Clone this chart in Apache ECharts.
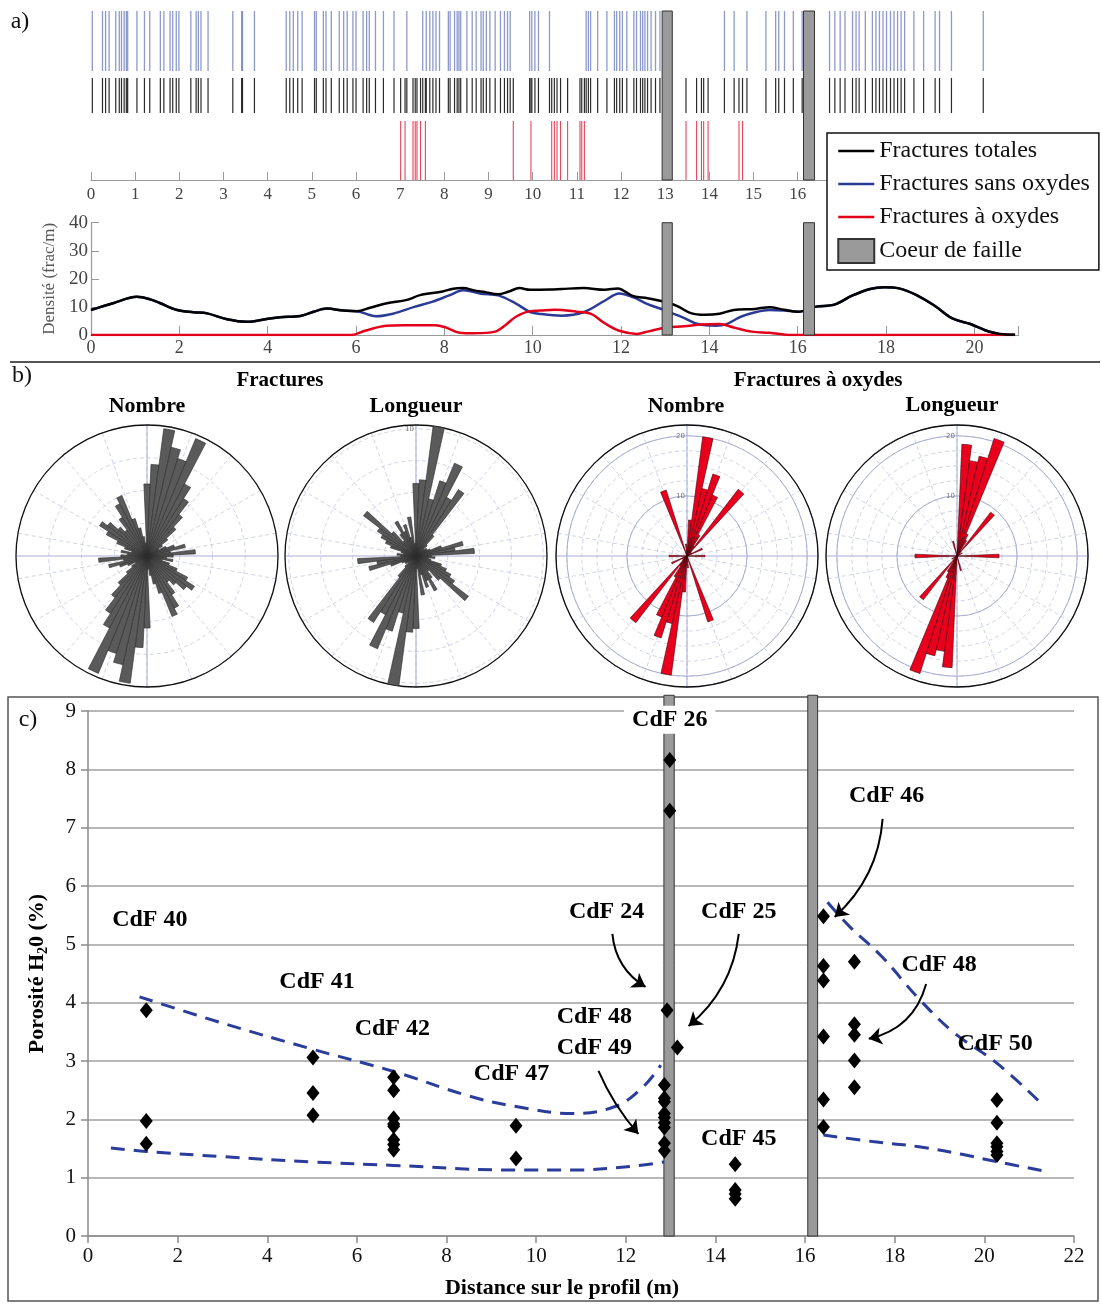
<!DOCTYPE html>
<html><head><meta charset="utf-8">
<script src="https://cdn.jsdelivr.net/npm/echarts/dist/echarts.min.js"></script>
<style>html,body{margin:0;padding:0;background:#fff}#c{width:1102px;height:1305px}</style>
</head><body><div id="c"></div><script>
// ---------------- DATA ----------------
// a) fracture positions along the profile (m)
const fracSansOxydes = [0.03,0.26,0.33,0.41,0.56,0.64,0.69,0.75,0.8,0.83,1.04,1.21,1.33,1.57,1.65,1.79,1.85,1.93,1.99,2.26,2.38,2.43,2.49,2.65,3.21,3.41,3.43,3.7,4.42,4.5,4.58,4.68,4.78,5.06,5.1,5.26,5.32,5.44,5.62,5.72,5.8,5.93,6.0,6.16,6.24,6.3,6.44,6.62,6.86,7.15,7.51,7.59,7.67,7.74,7.81,7.89,8.09,8.13,8.23,8.29,8.33,8.37,8.51,8.63,8.72,8.83,8.88,8.95,9.03,9.15,9.27,9.36,9.43,9.49,9.93,9.98,10.05,10.13,10.38,11.21,11.26,11.31,11.47,11.68,11.85,11.9,11.97,12.03,12.13,12.29,12.35,12.44,12.49,12.54,12.6,12.68,12.78,12.88,14.34,14.56,14.85,15.28,15.5,15.57,15.7,15.9,16.1,16.72,16.84,16.96,17.07,17.24,17.32,17.39,17.53,17.69,17.77,17.85,17.93,18.01,18.1,18.18,18.26,18.34,18.42,18.63,18.85,19.11,19.21,19.48,20.2];
const fracOxydes = [7.01,7.11,7.29,7.34,7.38,7.46,7.57,9.56,9.96,10.43,10.49,10.55,10.63,10.79,11.07,11.11,11.17,13.47,13.71,13.82,13.87,13.97,14.67,14.75];
const fracTotales = fracSansOxydes.concat(fracOxydes);
const coeurFailleA = [[12.93,13.16],[16.13,16.38]];
const xTicksA = [0,1,2,3,4,5,6,7,8,9,10,11,12,13,14,15,16];

// a) density curves (frac/m)
const densTotale = [[0,8.9],[0.5,11.3],[1.04,13.6],[1.34,12.7],[1.57,11.3],[1.95,8.9],[2.32,8.1],[2.63,7.7],[3.08,5.6],[3.53,4.7],[3.98,5.7],[4.28,6.3],[4.74,6.8],[5.04,8.3],[5.34,9.4],[5.72,8.7],[6.02,8.5],[6.32,9.7],[6.7,11.3],[7.15,12.5],[7.45,14.2],[7.96,15.5],[8.2,16.5],[8.43,16.7],[8.67,15.9],[8.91,15.3],[9.22,14.5],[9.46,15.5],[9.7,16.7],[9.94,16.1],[10.4,16.2],[10.66,16.4],[11.15,16.7],[11.63,16.1],[11.92,16.6],[12.28,13.8],[12.6,13.1],[12.93,12.0],[13.26,10.4],[13.58,7.8],[13.9,7.2],[14.23,7.6],[14.55,8.9],[15.04,9.3],[15.36,9.9],[15.69,9.0],[16.01,8.3],[16.42,10.1],[16.83,10.8],[17.23,14.0],[17.64,16.4],[17.96,17.0],[18.29,16.6],[18.69,14.2],[19.1,10.4],[19.5,5.9],[19.91,3.9],[20.23,1.8],[20.56,0.4],[20.92,0.1]];
const densSansOxydes = [[0,8.9],[0.5,11.3],[1.04,13.6],[1.34,12.7],[1.57,11.3],[1.95,8.9],[2.32,8.1],[2.63,7.7],[3.08,5.6],[3.53,4.7],[3.98,5.7],[4.28,6.3],[4.74,6.8],[5.04,8.3],[5.34,9.4],[5.72,8.7],[6.02,8.5],[6.45,6.7],[6.84,7.6],[7.32,10],[7.72,11.8],[8.11,14.1],[8.43,15.9],[8.83,14.7],[9.22,14.1],[9.62,11.2],[9.94,8.2],[10.17,7.5],[10.66,6.9],[11.15,8.1],[11.63,12.2],[11.96,14.8],[12.28,13.4],[12.6,11.0],[13.01,8.7],[13.42,6.1],[13.74,3.9],[14.15,3.3],[14.39,3.9],[14.71,6.5],[15.04,8.1],[15.36,8.9],[15.69,8.7],[16.01,8.3],[16.42,10.1],[16.83,10.8],[17.23,14.0],[17.64,16.4],[17.96,17.0],[18.29,16.6],[18.69,14.2],[19.1,10.4],[19.5,5.9],[19.91,3.9],[20.23,1.8],[20.56,0.4],[20.92,0.1]];
const densOxydes = [[0,0],[5.9,0],[6.2,1.5],[6.68,3.3],[7.08,3.5],[7.8,3.5],[8.03,2.7],[8.35,0.8],[8.67,0.6],[9.15,1.2],[9.38,3.5],[9.62,6.5],[9.94,8.5],[10.17,8.7],[10.5,9.0],[10.99,8.3],[11.32,7.5],[11.63,4.2],[11.96,1.5],[12.36,0.4],[12.6,1.2],[13.01,2.7],[13.42,3.1],[13.82,3.7],[14.23,3.9],[14.55,2.7],[14.96,1.2],[15.36,0.8],[15.85,0],[20.92,0]];

// b) rose diagrams: 5-degree bins from 0 to 175 (bidirectional)
const roseFracNombre   = [55,70,98,85,78,97,62,52,40,30,20,14,10,16,22,30,18,37,20,15,20,12,18,25,35,43,38,30,25,35,45,50,30,22,15,10];
const roseFracLongueur = [5.7,6.0,10.3,4.6,6.2,7.9,5.2,6.2,2.1,1.2,0.8,1.0,1.0,1.2,2.1,3.8,3.1,4.6,1.2,1.5,1.0,1.2,2.1,2.6,3.1,3.6,5.2,2.6,1.5,2.1,3.1,2.1,2.6,1.5,3.1,1.0];
const roseOxNombre     = [0,6,20,11.5,14.3,11,4,2,14,1,0,0,1,2.8,0,0,0,0,3,0,0,0,0,0,0,0,0,0,0,0,0,0,11.5,0,0,2];
const roseOxLongueur   = [0,18.6,16,17,20.5,4,3,1,9.2,0,0,0,1,0,0,0,0,0,7,0,0,0,0,0,0,0,0,0,0,0,0,0,0,2.5,0,0];

// c) porosity samples [distance (m), porosity (%)]
const porosite = [[1.3,3.87],[1.3,1.97],[1.3,1.58],[5.02,3.06],[5.02,2.45],[5.02,2.07],
 [6.82,2.72],[6.82,2.5],[6.82,2.02],[6.82,1.92],[6.82,1.88],[6.82,1.65],[6.82,1.57],[6.82,1.48],
 [9.55,1.89],[9.55,1.33],
 [12.86,2.59],[12.86,2.36],[12.86,2.3],[12.86,2.1],[12.86,2.03],[12.86,1.94],[12.86,1.86],[12.86,1.59],[12.86,1.46],
 [12.92,3.87],[12.98,8.16],[12.98,7.29],[13.15,3.23],
 [14.44,1.23],[14.44,0.79],[14.44,0.72],[14.44,0.64],
 [16.41,5.48],[16.41,4.63],[16.41,4.38],[16.41,3.42],[16.41,2.34],[16.41,1.87],
 [17.1,4.7],[17.1,3.63],[17.1,3.45],[17.1,3.01],[17.1,2.55],
 [20.28,2.33],[20.28,1.94],[20.28,1.59],[20.28,1.53],[20.28,1.45],[20.28,1.39]];
const tendanceHaut1 = [[1.15,4.1],[3,3.65],[5.02,3.2],[6.82,2.82],[8.5,2.4],[9.55,2.22],[10.81,2.1],[11.76,2.22],[12.39,2.56],[12.78,2.93]];
const tendanceBas1  = [[0.51,1.51],[1.3,1.45],[3,1.36],[5.02,1.27],[6.82,1.21],[9.55,1.13],[10.81,1.13],[12.2,1.2],[12.86,1.27]];
const tendanceHaut2 = [[16.5,5.72],[17.0,5.3],[17.7,4.8],[18.5,4.1],[19.3,3.5],[20.3,2.95],[21.3,2.25]];
const tendanceBas2  = [[16.41,1.73],[17.5,1.62],[18.54,1.53],[19.5,1.4],[20.3,1.27],[21.3,1.12]];
const coeurFailleC = [[12.85,13.08],[16.06,16.28]];
const annotations = [[1.38,5.42,'CdF 40'],[5.11,4.35,'CdF 41'],[6.79,3.55,'CdF 42'],[9.45,2.78,'CdF 47'],
 [11.3,3.75,'CdF 48'],[11.3,3.22,'CdF 49'],[11.57,5.55,'CdF 24'],[14.52,5.55,'CdF 25'],
 [14.52,1.66,'CdF 45'],[17.82,7.54,'CdF 46'],[18.99,4.65,'CdF 48'],[20.24,3.29,'CdF 50']];
const annotationBoxed = [[12.98,8.85,'CdF 26']];
const arrows = [[[11.7,5.18],[12.44,4.27],-0.25],[[14.52,5.18],[13.4,3.6],0.2],[[11.39,2.83],[12.28,1.75],-0.08],[[17.73,7.15],[16.66,5.47],0.2],[[18.7,4.32],[17.42,3.38],0.3]];

// ---------------- CHART ----------------
const F = 'Liberation Serif';
const chart = echarts.init(document.getElementById('c'), null, {renderer:'canvas'});

function tickSeries(name, arr, y0, y1, color, w) {
  return {type:'custom', name:name, xAxisIndex:0, yAxisIndex:0, silent:true,
    data: arr.map(v => [v, y0, y1]), encode:{x:0, y:1},
    renderItem: (p, api) => {
      const a = api.coord([api.value(0), api.value(1)]);
      const b = api.coord([api.value(0), api.value(2)]);
      return {type:'line', shape:{x1:a[0], y1:a[1], x2:b[0], y2:b[1]}, style:{stroke:color, lineWidth:w}};
    }};
}
function faultSeries(arr, xi, yi, y0, y1) {
  return {type:'custom', name:'Coeur de faille', xAxisIndex:xi, yAxisIndex:yi, silent:true, clip:false, z:5,
    itemStyle:{color:'#9a9a9a', borderColor:'#333', borderWidth:1},
    data: arr.map(d => [d[0], d[1], y0, y1]), encode:{x:[0,1], y:[2,3]},
    renderItem: (p, api) => {
      const a = api.coord([api.value(0), api.value(2)]);
      const b = api.coord([api.value(1), api.value(3)]);
      return {type:'rect', shape:{x:a[0], y:b[1], width:b[0]-a[0], height:a[1]-b[1]},
        style:{fill:'#9a9a9a', stroke:'#333', lineWidth:1}};
    }};
}

const roseDefs = [
  {vals: roseFracNombre, max: 100, fill:'#5a5a5a', stroke:'#2a2a2a', ring: 25, solid: false, lab: false, center:[147,556]},
  {vals: roseFracLongueur, max: 10.3, fill:'#5a5a5a', stroke:'#2a2a2a', ring: 2.5, solid: false, lab: true, center:[416,556]},
  {vals: roseOxNombre, max: 21.8, fill:'#e8001c', stroke:'#4a0008', ring: 2.5, solid: true, lab: true, center:[687,556]},
  {vals: roseOxLongueur, max: 21.8, fill:'#e8001c', stroke:'#4a0008', ring: 2.5, solid: true, lab: true, center:[957,556]}
];
const R = 131;
const polar = [], angleAxis = [], radiusAxis = [], roseSeries = [];
const bins72 = Array.from({length:72}, (_, i) => String(i*5));
const bins36 = Array.from({length:36}, (_, i) => String(i*10));
roseDefs.forEach((d, k) => {
  const base = polar.length;
  polar.push({center:d.center, radius:R});
  angleAxis.push({polarIndex:base, type:'category', data:bins36, startAngle:90, boundaryGap:true,
    axisLine:{show:false}, axisTick:{show:false}, axisLabel:{show:false},
    splitLine:{show:true, lineStyle:{color:'#c3c8de', type:[4,3], width:0.8}}});
  radiusAxis.push({polarIndex:base, type:'value', min:0, max:d.max, interval:d.ring,
    axisLine:{show:false}, axisTick:{show:false}, axisLabel:{show:false},
    splitLine:{show:true, lineStyle:{color:'#c3c8de', type:[4,3], width:0.8}}});
  polar.push({center:d.center, radius:R});
  angleAxis.push({polarIndex:base+1, type:'category', data:['N','E','S','W'], startAngle:90, boundaryGap:true,
    axisLine:{show:false}, axisTick:{show:false}, axisLabel:{show:false},
    splitLine:{show:true, lineStyle:{color:'#a8add2', width:1}}});
  radiusAxis.push({polarIndex:base+1, type:'value', min:0, max:d.max, interval:10,
    axisLine:{show:false}, axisTick:{show:false},
    axisLabel:{show:d.lab, fontSize:7, color:'#777', fontFamily:'DejaVu Sans', showMinLabel:false, showMaxLabel:false, margin:2},
    splitLine:{show:d.solid, lineStyle:{color:'#a8add2', width:1}}});
  polar.push({center:d.center, radius:R});
  angleAxis.push({polarIndex:base+2, type:'category', data:bins72, startAngle:92.5, boundaryGap:true,
    axisLine:{show:true, lineStyle:{color:'#111', width:1.3}}, axisTick:{show:false}, axisLabel:{show:false},
    splitLine:{show:false}});
  radiusAxis.push({polarIndex:base+2, type:'value', min:0, max:d.max, show:false,
    axisLine:{show:false}, axisTick:{show:false}, axisLabel:{show:false}, splitLine:{show:false}});
  roseSeries.push({type:'bar', coordinateSystem:'polar', polarIndex:base+2, silent:true,
    data: d.vals.concat(d.vals), barCategoryGap:'0%', z:3,
    itemStyle:{color:d.fill, borderColor:d.stroke, borderWidth:0.6}});
});

const labelStyle = {fontFamily:F, fontSize:24, fontWeight:'bold', color:'#000', textBorderWidth:0, opacity:1};

const option = {
  animation:false,
  backgroundColor:'#fff',
  textStyle:{fontFamily:F},
  legend:{left:827, top:133, orient:'vertical', backgroundColor:'#fff', borderColor:'#111', borderWidth:1.5,
    padding:[6,9,6,10], itemGap:9, itemWidth:36, itemHeight:24, selectedMode:false, z:20,
    textStyle:{fontFamily:F, fontSize:24, color:'#111'},
    data:[{name:'Fractures totales', itemStyle:{opacity:0}, lineStyle:{width:2.5}},
          {name:'Fractures sans oxydes', itemStyle:{opacity:0}, lineStyle:{width:2.5}},
          {name:'Fractures à oxydes', itemStyle:{opacity:0}, lineStyle:{width:2.5}},
          {name:'Coeur de faille', icon:'rect'}]},
  grid:[
    {left:91, top:11, width:927.6, height:169},
    {left:91, top:222.7, width:927.6, height:112.3},
    {left:88, top:711, width:986, height:525}
  ],
  xAxis:[
    {gridIndex:0, type:'value', min:0, max:21, interval:1,
      axisLine:{lineStyle:{color:'#9a9a9a', width:1.2}}, axisTick:{inside:true, length:8, lineStyle:{color:'#9a9a9a'}},
      axisLabel:{fontFamily:F, fontSize:17, color:'#444', margin:6, formatter:v => xTicksA.indexOf(v) >= 0 ? String(v) : ''},
      splitLine:{show:false}},
    {gridIndex:1, type:'value', min:0, max:21, interval:2,
      axisLine:{lineStyle:{color:'#9a9a9a', width:1.2}}, axisTick:{inside:true, length:9, lineStyle:{color:'#9a9a9a'}},
      axisLabel:{fontFamily:F, fontSize:18, color:'#444', margin:4, formatter:v => v % 2 === 0 ? String(v) : ''},
      splitLine:{show:false}},
    {gridIndex:2, type:'value', min:0, max:22, interval:2,
      axisLine:{lineStyle:{color:'#8a8a8a', width:1.5}}, axisTick:{length:7, lineStyle:{color:'#8a8a8a', width:1.5}},
      axisLabel:{fontFamily:F, fontSize:21, color:'#111', margin:10},
      splitLine:{show:false},
      name:'Distance sur le profil (m)', nameLocation:'middle', nameGap:41,
      nameTextStyle:{fontFamily:F, fontSize:22, fontWeight:'bold', color:'#000', padding:[0,38,0,0]}}
  ],
  yAxis:[
    {gridIndex:0, type:'value', min:0, max:1, show:false},
    {gridIndex:1, type:'value', min:0, max:40, interval:10,
      axisLine:{show:true, lineStyle:{color:'#9a9a9a', width:1.2}}, axisTick:{show:true, inside:true, length:8, lineStyle:{color:'#9a9a9a'}},
      axisLabel:{fontFamily:F, fontSize:19, color:'#444', margin:3},
      splitLine:{show:false},
      name:'Densité (frac/m)', nameLocation:'middle', nameGap:18, nameRotate:90,
      nameTextStyle:{fontFamily:F, fontSize:17, color:'#555'}},
    {gridIndex:2, type:'value', min:0, max:9, interval:1,
      axisLine:{show:true, lineStyle:{color:'#8a8a8a', width:1.5}}, axisTick:{show:true, length:7, lineStyle:{color:'#8a8a8a', width:1.5}},
      axisLabel:{fontFamily:F, fontSize:21, color:'#111', margin:12},
      splitLine:{show:true, lineStyle:{color:'#a0a0a0', width:1.5}},
      name:'Porosité H{sub|2}0 (%)', nameLocation:'middle', nameGap:38, nameRotate:90,
      nameTextStyle:{fontFamily:F, fontSize:22, fontWeight:'bold', color:'#000',
        rich:{sub:{fontFamily:F, fontSize:14, fontWeight:'bold', color:'#000', padding:[12,0,0,0]}}}}
  ],
  polar: polar, angleAxis: angleAxis, radiusAxis: radiusAxis,
  graphic:[
    {type:'line', shape:{x1:10, y1:362, x2:1100, y2:362}, style:{stroke:'#555', lineWidth:2}, z:0},
    {type:'rect', shape:{x:8, y:697, width:1090, height:604}, style:{fill:null, stroke:'#555', lineWidth:1.5}, z:0},
    {type:'text', x:20, y:22, style:{text:'a)', font:'24px "Liberation Serif"', fill:'#111', align:'center', verticalAlign:'middle'}},
    {type:'text', x:22, y:376, style:{text:'b)', font:'24px "Liberation Serif"', fill:'#111', align:'center', verticalAlign:'middle'}},
    {type:'text', x:28, y:720, style:{text:'c)', font:'24px "Liberation Serif"', fill:'#111', align:'center', verticalAlign:'middle'}},
    {type:'text', x:280, y:381, style:{text:'Fractures', font:'bold 21px "Liberation Serif"', fill:'#000', align:'center', verticalAlign:'middle'}},
    {type:'text', x:818, y:381, style:{text:'Fractures à oxydes', font:'bold 21px "Liberation Serif"', fill:'#000', align:'center', verticalAlign:'middle'}},
    {type:'text', x:147, y:406, style:{text:'Nombre', font:'bold 22px "Liberation Serif"', fill:'#000', align:'center', verticalAlign:'middle'}},
    {type:'text', x:416, y:406, style:{text:'Longueur', font:'bold 22px "Liberation Serif"', fill:'#000', align:'center', verticalAlign:'middle'}},
    {type:'text', x:686, y:406, style:{text:'Nombre', font:'bold 22px "Liberation Serif"', fill:'#000', align:'center', verticalAlign:'middle'}},
    {type:'text', x:952, y:405, style:{text:'Longueur', font:'bold 22px "Liberation Serif"', fill:'#000', align:'center', verticalAlign:'middle'}}
  ],
  series:[
    tickSeries('t_sans', fracSansOxydes, 0.645, 1.0, 'rgba(80,100,175,0.65)', 1.3),
    tickSeries('t_tot', fracTotales, 0.396, 0.604, '#2b2b2b', 1.2),
    tickSeries('t_ox', fracOxydes, 0.0, 0.349, '#e5465c', 1.1),
    faultSeries(coeurFailleA, 0, 0, 0, 1),
    {type:'line', name:'Fractures sans oxydes', xAxisIndex:1, yAxisIndex:1, data:densSansOxydes, symbol:'none', showSymbol:false, smooth:0.35,
      lineStyle:{color:'#2b3b95', width:2.5}, itemStyle:{color:'#2b3b95'}},
    {type:'line', name:'Fractures à oxydes', xAxisIndex:1, yAxisIndex:1, data:densOxydes, symbol:'none', showSymbol:false, smooth:0.35,
      lineStyle:{color:'#e3001b', width:2.5}, itemStyle:{color:'#e3001b'}},
    {type:'line', name:'Fractures totales', xAxisIndex:1, yAxisIndex:1, data:densTotale, symbol:'none', showSymbol:false, smooth:0.35,
      lineStyle:{color:'#000', width:2.5}, itemStyle:{color:'#000'}},
    faultSeries(coeurFailleA, 1, 1, 0, 40),
    ...roseSeries,
    faultSeries(coeurFailleC, 2, 2, 0, 9.27),
    {type:'line', xAxisIndex:2, yAxisIndex:2, data:tendanceHaut1, symbol:'none', smooth:0.4, z:4, lineStyle:{color:'#2a3d9a', width:3, type:[14,9]}},
    {type:'line', xAxisIndex:2, yAxisIndex:2, data:tendanceBas1, symbol:'none', smooth:0.4, z:4, lineStyle:{color:'#2a3d9a', width:3, type:[14,9]}},
    {type:'line', xAxisIndex:2, yAxisIndex:2, data:tendanceHaut2, symbol:'none', smooth:0.4, z:4, lineStyle:{color:'#2a3d9a', width:3, type:[14,9]}},
    {type:'line', xAxisIndex:2, yAxisIndex:2, data:tendanceBas2, symbol:'none', smooth:0.4, z:4, lineStyle:{color:'#2a3d9a', width:3, type:[14,9]}},
    {type:'scatter', xAxisIndex:2, yAxisIndex:2, data:porosite, symbol:'diamond', symbolSize:[13,16], z:6, itemStyle:{color:'#000', opacity:1}},
    {type:'scatter', xAxisIndex:2, yAxisIndex:2, data:annotations, symbolSize:0, z:7, silent:true, itemStyle:{opacity:1},
      label:Object.assign({show:true, position:'inside', formatter:p => p.data[2]}, labelStyle)},
    {type:'scatter', xAxisIndex:2, yAxisIndex:2, data:annotationBoxed, symbolSize:0, z:7, silent:true, itemStyle:{opacity:1},
      label:Object.assign({show:true, position:'inside', formatter:p => p.data[2], backgroundColor:'#fff', padding:[2,8]}, labelStyle)},
    ...arrows.map(a => ({type:'lines', coordinateSystem:'cartesian2d', xAxisIndex:2, yAxisIndex:2, z:7, silent:true,
      symbol:['none','arrow'], symbolSize:13,
      lineStyle:{color:'#000', width:2, curveness:a[2], opacity:1},
      data:[{coords:[a[0], a[1]]}]}))
  ]
};
chart.setOption(option);
</script></body></html>
